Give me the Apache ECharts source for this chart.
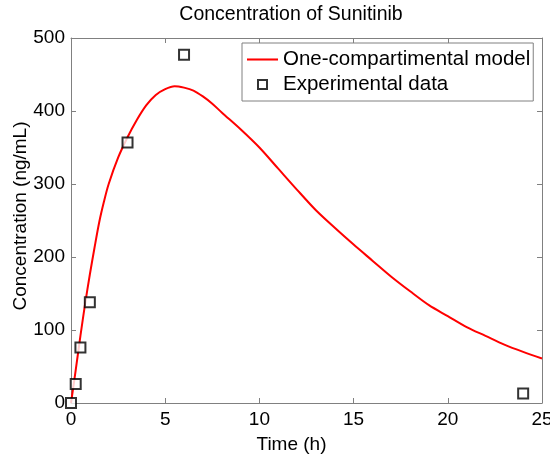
<!DOCTYPE html>
<html>
<head>
<meta charset="utf-8">
<script src="https://cdn.jsdelivr.net/npm/echarts@6/dist/echarts.min.js"></script>
<style>html,body{margin:0;padding:0;background:#fff;}#c{width:550px;height:459px;}</style>
</head>
<body>
<div id="c"></div>
<script>
const modelTime = [0, 0.25, 0.5, 0.75, 1, 1.25, 1.5, 1.75, 2, 2.5, 3, 3.5, 4, 4.5, 5, 5.5, 6, 6.5, 7, 7.5, 8, 9, 10, 11, 12, 13, 14, 15, 16, 17, 18, 19, 20, 21, 22, 23, 24, 25];
const modelConc = [0, 45, 92, 136, 176, 213, 248, 276, 300, 336, 364, 388, 408, 422, 430, 434, 432, 428, 420, 410, 398, 375, 350, 321, 292, 264, 240, 217, 195, 173, 153, 134, 119, 104, 92, 80, 70, 61];
const expTime = [0, 0.25, 0.5, 1, 3, 6, 24];
const expConc = [0, 26, 76, 138, 357, 477, 13];
const xTicks = [0, 5, 10, 15, 20, 25];
const yTicks = [0, 100, 200, 300, 400, 500];

const FONT = '"Liberation Sans", Arial, sans-serif';
const AXC = '#808080';
const chart = echarts.init(document.getElementById('c'), null, {renderer: 'canvas'});
function axisBase() {
  return {
    axisLine: {show: true, onZero: false, lineStyle: {color: AXC, width: 1}},
    axisTick: {show: true, inside: true, length: 5, lineStyle: {color: AXC}},
    splitLine: {show: false}
  };
}
chart.setOption({
  animation: false,
  backgroundColor: '#fff',
  title: {
    text: 'Concentration of Sunitinib',
    left: 291, top: 5, textAlign: 'center', padding: 0,
    textStyle: {fontFamily: FONT, fontSize: 19.5, fontWeight: 'normal', color: '#000'}
  },
  grid: {left: 71, right: 8, top: 38, bottom: 56, containLabel: false, outerBoundsMode: 'none'},
  legend: {
    orient: 'vertical', left: 242, top: 43,
    padding: [6, 3, 6, 5], itemGap: 4,
    itemWidth: 31, itemHeight: 9,
    backgroundColor: '#fff', borderColor: '#808080', borderWidth: 1, borderRadius: 0,
    textStyle: {fontFamily: FONT, fontSize: 20.5, color: '#000', lineHeight: 21},
    data: [
      {name: 'One-compartimental model', icon: 'path://M0,0H30V2H0Z', itemStyle: {color: '#ff0000', borderWidth: 0}},
      {name: 'Experimental data', icon: 'path://M0,0H10V10H0Z', itemStyle: {color: '#fff', borderColor: '#000', borderWidth: 2}}
    ]
  },
  xAxis: [
    Object.assign(axisBase(), {
      type: 'value', min: xTicks[0], max: xTicks[xTicks.length - 1], interval: 5,
      name: 'Time (h)', nameLocation: 'middle', nameGap: 32, nameMoveOverlap: false,
      nameTextStyle: {fontFamily: FONT, fontSize: 19, color: '#000', padding: [0, 30, 0, 0]},
      axisLabel: {fontFamily: FONT, fontSize: 19, color: '#000', margin: 7}
    }),
    Object.assign(axisBase(), {
      type: 'value', position: 'top', min: 0, max: 25, interval: 5,
      axisLabel: {show: false}
    })
  ],
  yAxis: [
    Object.assign(axisBase(), {
      type: 'value', min: yTicks[0], max: yTicks[yTicks.length - 1], interval: 100,
      name: 'Concentration (ng/mL)', nameLocation: 'middle', nameGap: 41, nameRotate: 90,
      nameMoveOverlap: false,
      nameTextStyle: {fontFamily: FONT, fontSize: 19, color: '#000', padding: [0, 0, 0, 9]},
      axisLabel: {fontFamily: FONT, fontSize: 19, color: '#000', margin: 6}
    }),
    Object.assign(axisBase(), {
      type: 'value', position: 'right', min: 0, max: 500, interval: 100,
      axisLabel: {show: false}
    })
  ],
  series: [
    {
      name: 'One-compartimental model', type: 'line', smooth: 0.3,
      showSymbol: false, symbol: 'none',
      lineStyle: {color: '#ff0000', width: 2},
      itemStyle: {color: '#ff0000'},
      data: modelTime.map((t, i) => [t, modelConc[i]]),
      z: 2
    },
    {
      name: 'Experimental data', type: 'scatter',
      symbol: 'rect', symbolSize: 10,
      itemStyle: {color: '#fff', borderColor: '#000', borderWidth: 2},
      data: expTime.map((t, i) => [t, expConc[i]]),
      z: 3
    }
  ]
});
</script>
</body>
</html>
